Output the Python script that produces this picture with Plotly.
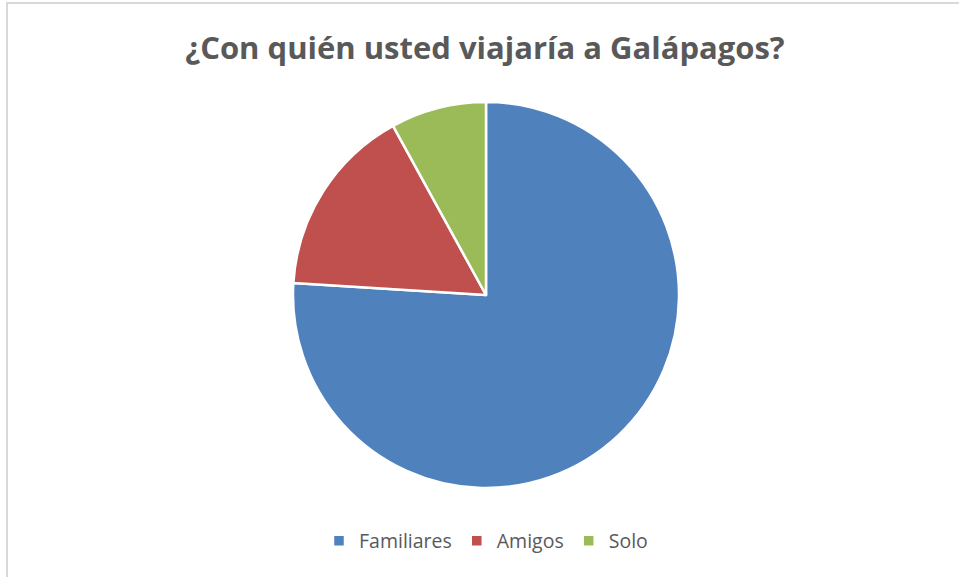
import plotly.graph_objects as go

categories = ["Familiares", "Amigos", "Solo"]
values = [19, 4, 2]
colors = ["#4F81BD", "#C0504D", "#9BBB59"]
title_text = "¿Con quién usted viajaría a Galápagos?"

W, H = 959, 577
cx, cy, r = 486, 295, 193

fig = go.Figure()
fig.add_trace(go.Pie(
    labels=categories,
    values=values,
    sort=False,
    direction="clockwise",
    rotation=0,
    textinfo="none",
    hoverinfo="label+percent",
    marker=dict(colors=colors, line=dict(color="white", width=2.5)),
    domain=dict(x=[(cx - r) / W, (cx + r) / W], y=[1 - (cy + r) / H, 1 - (cy - r) / H]),
))

fig.update_layout(
    width=W, height=H,
    margin=dict(l=0, r=0, t=0, b=0),
    paper_bgcolor="white",
    plot_bgcolor="white",
    title=dict(text="<b>" + title_text + "</b>", x=485 / W, xanchor="center",
               y=1 - 48 / H, yanchor="middle",
               font=dict(family="Open Sans", size=31, color="#595959")),
    legend=dict(orientation="h", x=486 / W, xanchor="center", y=1 - 541 / H, yanchor="middle",
                font=dict(family="Open Sans", size=19.5, color="#595959"),
                itemwidth=30, traceorder="normal"),
    shapes=[
        dict(type="line", xref="paper", yref="paper", x0=7 / W, x1=7 / W, y0=0, y1=1 - 3 / H,
             line=dict(color="#D9D9D9", width=2)),
        dict(type="line", xref="paper", yref="paper", x0=6 / W, x1=1, y0=1 - 3 / H, y1=1 - 3 / H,
             line=dict(color="#D9D9D9", width=2)),
    ],
)

fig.write_html("out.html", config={"displayModeBar": False},
               post_script="document.body.style.margin='0';document.body.style.overflow='hidden';")
